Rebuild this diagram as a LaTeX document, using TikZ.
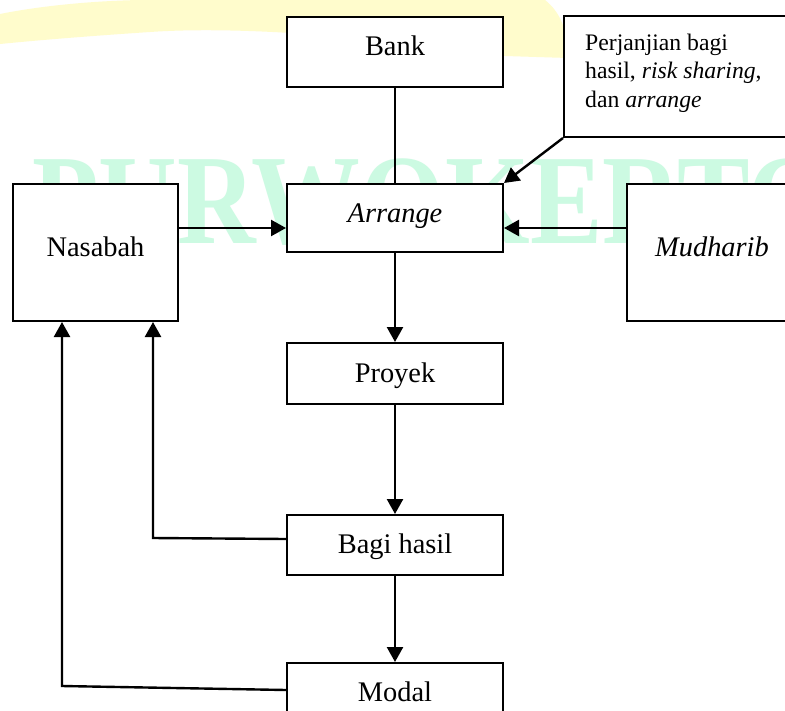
\documentclass[tikz,border=0pt]{standalone}
\usepackage{fontspec}
\setmainfont{Liberation Serif}
\usetikzlibrary{arrows.meta}
\definecolor{wmgreen}{RGB}{204,250,226}
\definecolor{wmyellow}{RGB}{255,252,204}
\begin{document}
\begin{tikzpicture}[x=1pt,y=-1pt,
 box/.style={draw=black, line width=2pt, fill=white, rectangle, inner sep=0pt},
 lbl/.style={anchor=base, inner sep=0pt, font=\fontsize{28.4}{34}\selectfont},
 small/.style={anchor=base west, inner sep=0pt, font=\fontsize{23.7}{28.5}\selectfont},
 conn/.style={line width=2.4pt},
 arr/.style={conn, -{Triangle[length=15pt,width=16pt]}},
]
\clip (0,0) rectangle (785,710);
\fill[white] (0,0) rectangle (785,710);
% watermark
\fill[wmyellow] (0,14) .. controls (40,6) and (90,1) .. (140,0) -- (545,0) .. controls (560,12) and (568,30) .. (568,58) -- (505,56) .. controls (400,40) and (250,25) .. (150,32) .. controls (90,36) and (40,40) .. (0,44) -- cycle;
\node[anchor=base west, inner sep=0pt, text=wmgreen, font=\bfseries\fontsize{128}{128}\selectfont, xscale=0.85] (wm) at (32,243) {PURWOKERTO};
% boxes
\node[box, minimum width=216pt, minimum height=70pt] (bank) at (395,52) {};
\node[box, minimum width=216pt, minimum height=68pt] (arrange) at (395,218) {};
\node[box, minimum width=165pt, minimum height=137pt] (nasabah) at (95.5,252.5) {};
\node[box, minimum width=170pt, minimum height=137pt] (mudharib) at (712,252.5) {};
\node[box, minimum width=236pt, minimum height=121pt] (perj) at (682,76.5) {};
\node[box, minimum width=216pt, minimum height=61pt] (proyek) at (395,373.5) {};
\node[box, minimum width=216pt, minimum height=60pt] (bagi) at (395,545) {};
\node[box, minimum width=216pt, minimum height=67pt] (modal) at (395,696.5) {};
% labels
\node[lbl] (tbank) at (395,55) {Bank};
\node[lbl] (tarr) at (395,222.7) {\textit{Arrange}};
\node[lbl] (tnas) at (95.5,256) {Nasabah};
\node[lbl] (tmud) at (712,256) {\textit{Mudharib}};
\node[lbl] (tpro) at (395,382.7) {Proyek};
\node[lbl] (tbagi) at (395,553) {Bagi hasil};
\node[lbl] (tmod) at (395,701.7) {Modal};
\node[small] (p1) at (585,50) {Perjanjian bagi};
\node[small] (p2) at (585,78.5) {hasil, \textit{risk sharing},};
\node[small] (p3) at (585,107) {dan \textit{arrange}};
% connectors
\coordinate (hA) at ([yshift=-10pt]arrange.west);
\coordinate (hB) at ([yshift=-10pt]arrange.east);
\coordinate (k1) at (153,538);
\coordinate (k2) at (62,686);
\draw[conn] (bank.south) -- (arrange.north);
\draw[arr] (nasabah.east |- hA) -- (hA);
\draw[arr] (mudharib.west |- hB) -- (hB);
\draw[arr] (perj.south west) -- (arrange.north east);
\draw[arr] (arrange.south) -- (proyek.north);
\draw[arr] (proyek.south) -- (bagi.north);
\draw[arr] (bagi.south) -- (modal.north);
\draw[arr] ([yshift=6pt]bagi.west) -- (k1) -- (k1 |- nasabah.south);
\draw[arr] ([yshift=6.5pt]modal.west) -- (k2) -- (k2 |- nasabah.south);
\end{tikzpicture}
\end{document}
